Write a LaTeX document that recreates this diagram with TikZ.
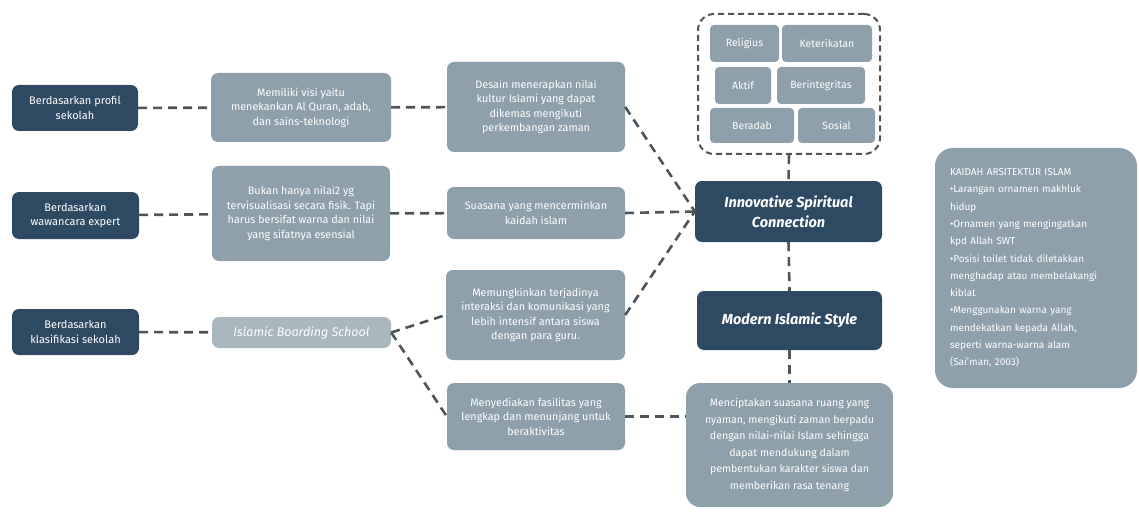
\documentclass[tikz,border=0pt]{standalone}
\usepackage{fontspec}
\setmainfont{Fira Sans}
\definecolor{darkbox}{HTML}{2E4A63}
\definecolor{lightbox}{HTML}{8DA0AB}
\definecolor{paleb}{HTML}{A9B7BF}
\definecolor{lineg}{HTML}{505457}
\begin{document}
\begin{tikzpicture}[x=1pt,y=-1pt,
  base/.style={rectangle,rounded corners=7pt,inner sep=2pt,text=white,align=center,
    font=\fontsize{10.8}{14.5}\selectfont},
  darkn/.style={base,fill=darkbox,font=\fontsize{11}{14.5}\selectfont},
  lightn/.style={base,fill=lightbox},
  palen/.style={base,fill=paleb,font=\fontsize{12.5}{14}\selectfont\itshape},
  keyn/.style={base,fill=darkbox,font=\fontsize{14.5}{20}\selectfont\bfseries\itshape},
  smalln/.style={base,fill=lightbox,rounded corners=4pt,font=\fontsize{10.5}{12}\selectfont},
  conn/.style={draw=lineg,line width=2.6pt,dash pattern=on 9pt off 6pt},
  grpn/.style={rectangle,draw=lineg,line width=2pt,dash pattern=on 6pt off 4pt,rounded corners=16pt}]
\useasboundingbox[fill=white] (0,0) rectangle (1139,513);

% left column
\node[darkn,minimum width=126pt,minimum height=46pt] (d1) at (75,108) {Berdasarkan profil\\sekolah};
\node[darkn,minimum width=127pt,minimum height=47pt] (d2) at (75.5,215.5) {Berdasarkan\\wawancara expert};
\node[darkn,minimum width=127pt,minimum height=46pt] (d3) at (75.5,332) {Berdasarkan\\klasifikasi sekolah};

% second column
\node[lightn,minimum width=180pt,minimum height=69pt] (m1) at (301,107.5) {Memiliki visi yaitu\\menekankan Al Quran, adab,\\dan sains-teknologi};
\node[lightn,minimum width=178pt,minimum height=95pt] (m2) at (301,213.5) {Bukan hanya nilai2 yg\\tervisualisasi secara fisik. Tapi\\harus bersifat warna dan nilai\\yang sifatnya esensial};
\node[palen,minimum width=179pt,minimum height=31pt] (m3) at (301.5,332.5) {Islamic Boarding School};

% third column
\node[lightn,minimum width=178pt,minimum height=90pt] (r1) at (536,107) {Desain menerapkan nilai\\kultur Islami yang dapat\\dikemas mengikuti\\perkembangan zaman};
\node[lightn,minimum width=178pt,minimum height=52pt] (r2) at (536,213) {Suasana yang mencerminkan\\kaidah islam};
\node[lightn,minimum width=179pt,minimum height=90pt] (r3) at (535.5,315) {Memungkinkan terjadinya\\interaksi dan komunikasi yang\\lebih intensif antara siswa\\dengan para guru.};
\node[lightn,minimum width=178pt,minimum height=67pt] (r4) at (536,416.5) {Menyediakan fasilitas yang\\lengkap dan menunjang untuk\\beraktivitas};

% value group
\node[grpn,minimum width=182pt,minimum height=140pt] (grp) at (789,84) {};
\node[smalln,minimum width=69pt,minimum height=37pt] (v1) at (744.5,43.5) {Religius};
\node[smalln,minimum width=90pt,minimum height=37pt] (v2) at (827,43.5) {Keterikatan};
\node[smalln,minimum width=56pt,minimum height=37pt] (v3) at (743,85.5) {Aktif};
\node[smalln,minimum width=88pt,minimum height=37pt] (v4) at (821,85.5) {Berintegritas};
\node[smalln,minimum width=84pt,minimum height=35pt] (v5) at (752,125.5) {Beradab};
\node[smalln,minimum width=77pt,minimum height=35pt] (v6) at (836.5,125.5) {Sosial};

% concept column
\node[keyn,minimum width=187pt,minimum height=61pt] (isc) at (788.5,211.5) {Innovative Spiritual\\Connection};
\node[keyn,minimum width=185pt,minimum height=59pt] (mis) at (789.5,320.5) {Modern Islamic Style};
\node[lightn,minimum width=207pt,minimum height=124pt,rounded corners=14pt,
  font=\fontsize{10.6}{16.5}\selectfont] (bot) at (789.5,445) {Menciptakan suasana ruang yang\\nyaman, mengikuti zaman berpadu\\dengan nilai-nilai Islam sehingga\\dapat mendukung dalam\\pembentukan karakter siswa dan\\memberikan rasa tenang};

% rules box
\node[lightn,minimum width=202pt,minimum height=240pt,rounded corners=18pt,align=left,
  text width=172pt,font=\fontsize{10}{17.3}\selectfont] (rules) at (1036,268) {KAIDAH ARSITEKTUR ISLAM\\•Larangan ornamen makhluk\\hidup\\•Ornamen yang mengingatkan\\kpd Allah SWT\\•Posisi toilet tidak diletakkan\\menghadap atau membelakangi\\kiblat\\•Menggunakan warna yang\\mendekatkan kepada Allah,\\seperti warna-warna alam\\(Sai'man, 2003)};

% connectors
\draw[conn] (d1) -- (m1);
\draw[conn] (m1) -- (r1);
\draw[conn] (d2) -- (m2);
\draw[conn] (m2) -- (r2);
\draw[conn] (d3) -- (m3);
\draw[conn] (m3.east) -- (r3.west);
\draw[conn] (m3.east) -- (r4.west);
\draw[conn] (r1.east) -- (isc.west);
\draw[conn] (r2.east) -- (isc.west);
\draw[conn] (r3.east) -- (isc.west);
\draw[conn] (grp.south) -- (isc.north);
\draw[conn] (isc.south) -- (mis.north);
\draw[conn] (mis.south) -- (bot.north);
\draw[conn] (r4.east) -- (r4.east -| bot.west);
\end{tikzpicture}
\end{document}
